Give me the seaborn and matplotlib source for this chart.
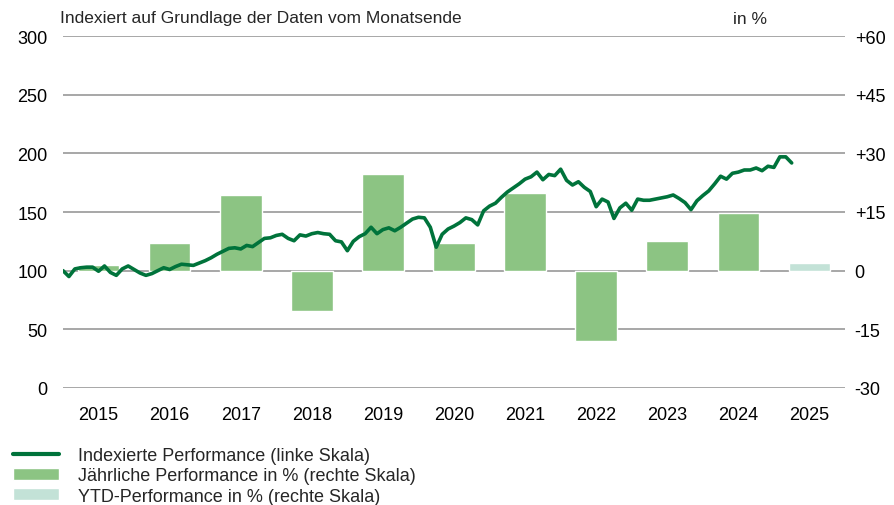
import numpy as np
import pandas as pd
import matplotlib
matplotlib.use("Agg")
import matplotlib.pyplot as plt
import seaborn as sns
from matplotlib.lines import Line2D
from matplotlib.patches import Patch

# Jahre und jaehrliche Performance in % (rechte Skala)
years = ["2015", "2016", "2017", "2018", "2019", "2020", "2021", "2022", "2023", "2024", "2025"]
annual_perf = [1.5, 7.0, 19.4, -10.3, 24.8, 7.1, 19.9, -18.0, 7.6, 14.8, 2.0]
ytd_flag = [False] * 10 + [True]

# Indexierte Performance, Monatsende (linke Skala), Start = 100
index_perf = [
    100, 95, 101.5, 102.5, 103, 103, 99.5, 104, 98.5, 96, 101.5, 104,
    101, 98, 96, 97.5, 100, 102.5, 101, 103.5, 105.5, 105, 104.5, 106.5,
    108.5, 111, 114, 116.5, 119, 119.5, 118.5, 121.5, 120.5, 124, 127.5, 128,
    130, 131, 127.5, 125.5, 130.5, 129.5, 131.5, 132.5, 131.5, 131, 125.5, 124.5,
    117, 125, 129, 131.5, 137, 131.5, 135, 136.5, 134, 137, 140.5, 144,
    145.5, 145, 137, 120, 131, 135.5, 138, 141, 145, 143.5, 139, 151,
    155, 157.5, 162.5, 167, 170.5, 174, 178, 180, 184, 177.5, 182, 181,
    186.5, 177, 173, 175.8, 171, 167.5, 154.5, 161, 158.5, 144.5, 153.5, 157.5,
    151.5, 161, 160, 160, 161, 162, 163, 164.5, 161.5, 158, 152, 159.5,
    164, 168, 174, 180.5, 178, 183, 184, 185.8, 185.8, 187.5, 185.2, 189,
    188, 197, 197, 191.8,
]

dark_green = "#00733b"
bar_green = "#8cc483"
ytd_green = "#c3e2d7"
grid_grey = "#a0a0a0"

sns.set_style("white")
plt.rcParams["font.family"] = ["Liberation Sans", "DejaVu Sans"]

fig = plt.figure(figsize=(8.95, 5.06), dpi=100)
ax = fig.add_axes([63 / 895, 1 - 389 / 506, 782 / 895, 352 / 506])

# Balken (rechte Skala) auf der unteren Achse
bars = pd.DataFrame({"year": years, "perf": annual_perf,
                     "kind": ["ytd" if f else "year" for f in ytd_flag]})
sns.barplot(data=bars, x="year", y="perf", hue="kind",
            palette={"year": bar_green, "ytd": ytd_green},
            width=0.585, saturation=1, legend=False, ax=ax)
ax.set_ylim(-30, 60)
ax.set_yticks(np.arange(-30, 61, 15))
ax.set_yticklabels([f"+{v}" if v > 0 else str(v) for v in range(-30, 61, 15)])
ax.grid(axis="y", color=grid_grey, linewidth=1.3)
ax.set_axisbelow(True)

# Linie (linke Skala)
ax2 = ax.twinx()
months = -0.5 + np.arange(len(index_perf)) / 12
sns.lineplot(x=months, y=index_perf, color=dark_green, linewidth=2.6, ax=ax2)
ax2.set_ylim(0, 300)
ax2.set_yticks(np.arange(0, 301, 50))
ax2.set_xlim(-0.5, 10.5)

# Achsenseiten nach twinx festlegen
ax.yaxis.tick_right()
ax2.yaxis.tick_left()

for a in (ax, ax2):
    for s in a.spines.values():
        s.set_visible(False)
    a.set_xlabel("")
    a.set_ylabel("")
    a.tick_params(length=0, labelsize=13, colors="black")
ax.tick_params(axis="x", pad=13)
ax.tick_params(axis="y", pad=7)
ax2.tick_params(axis="y", pad=11)

fig.text(60 / 895, 1 - 19 / 506, "Indexiert auf Grundlage der Daten vom Monatsende",
         fontsize=12.5, va="center", ha="left")
fig.text(733 / 895, 1 - 19 / 506, "in %", fontsize=12.5, va="center", ha="left")

handles = [
    Line2D([0], [0], color=dark_green, linewidth=3),
    Patch(facecolor=bar_green),
    Patch(facecolor=ytd_green),
]
labels = [
    "Indexierte Performance (linke Skala)",
    "Jährliche Performance in % (rechte Skala)",
    "YTD-Performance in % (rechte Skala)",
]
fig.legend(handles, labels, loc="upper left", bbox_to_anchor=(8 / 895, 1 - 443 / 506),
           frameon=False, fontsize=13, handlelength=2.55, handleheight=0.65,
           handletextpad=1.0, labelspacing=0.17, borderaxespad=0, borderpad=0.3)

fig.savefig("out.png", dpi=100)
